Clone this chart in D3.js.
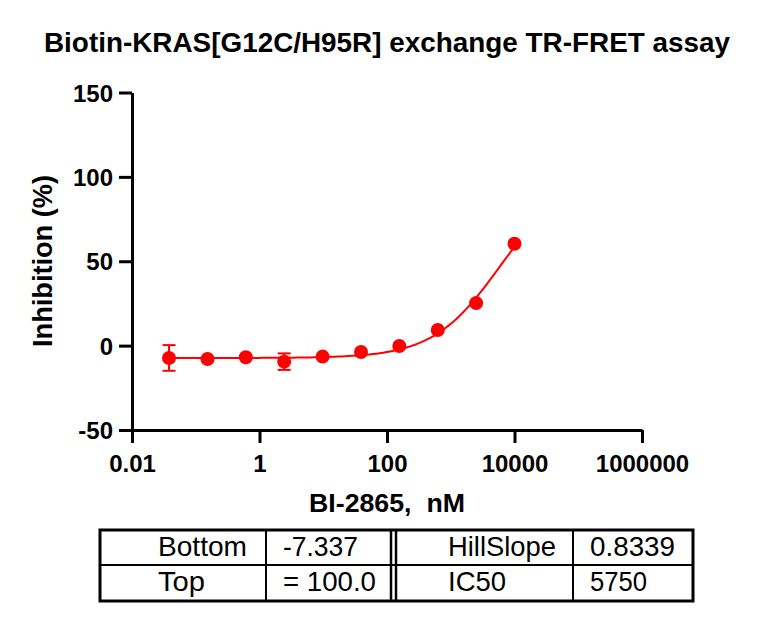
<!DOCTYPE html>
<html>
<head>
<meta charset="utf-8">
<script src="https://cdn.jsdelivr.net/npm/d3@7"></script>
<style>
  body { margin: 0; background: #fff; }
  svg { display: block; font-family: "Liberation Sans", Arial, sans-serif; }
  .axis path, .axis line { stroke: #000; stroke-width: 3; }
  .axis text { font-size: 24px; font-weight: bold; fill: #000; }
</style>
</head>
<body>
<svg id="chart" width="757" height="619"></svg>
<script>
// measured concentrations (nM), 4-fold dilution series
const conc  = [0.0381, 0.153, 0.610, 2.44, 9.77, 39.1, 156, 625, 2500, 10000];
const inhib = [-7.3, -7.9, -6.9, -9.5, -6.5, -3.8, -0.2, 9.3, 25.2, 60.4];
const errs  = [7.6, 0, 0, 4.9, 0, 0, 0, 0, 0, 0];

const xTicks = [0.01, 1, 100, 10000, 1000000];
const yTicks = [-50, 0, 50, 100, 150];

// fit results shown in the table
const paramNames = ["Bottom", "Top", "HillSlope", "IC50"];
const paramText  = ["-7.337", "= 100.0", "0.8339", "5750"];
const fitParams  = [-7.337, 100.0, 0.8339, 5750];

const svg = d3.select('#chart');
const red = '#ff0000';

var x = d3.scaleLog().domain([0.01, 1e6]).range([132, 642]);
var y = d3.scaleLinear().domain([-50, 150]).range([430, 92.5]);

/* AXES */
var xAxis = d3.axisBottom(x)
  .tickValues(xTicks)
  .tickFormat(d => String(d))
  .tickSize(13)
  .tickSizeOuter(0)
  .tickPadding(12);

svg.append('g').attr('class', 'axis')
  .attr('transform', 'translate(0,' + y(-50) + ')')
  .call(xAxis)
  .call(g => g.selectAll('text').attr('dy', '0.71em'));

var yAxis = d3.axisLeft(y)
  .tickValues(yTicks)
  .tickFormat(d => String(d))   // plain hyphen for negatives
  .tickSize(13)
  .tickSizeOuter(0)
  .tickPadding(6);

svg.append('g').attr('class', 'axis')
  .attr('transform', 'translate(' + x(0.01) + ',0)')
  .call(yAxis)
  .call(g => g.selectAll('text').attr('dy', '0.36em'));

/* TITLES */
svg.append('text')
  .attr('x', 387).attr('y', 52)
  .attr('text-anchor', 'middle')
  .attr('textLength', 686).attr('lengthAdjust', 'spacingAndGlyphs')
  .style('font-size', '28px').style('font-weight', 'bold')
  .text('Biotin-KRAS[G12C/H95R] exchange TR-FRET assay');

svg.append('text')
  .attr('x', 387).attr('y', 512)
  .attr('text-anchor', 'middle')
  .attr('textLength', 156).attr('lengthAdjust', 'spacingAndGlyphs')
  .style('font-size', '26px').style('font-weight', 'bold')
  .style('white-space', 'pre')
  .text('BI-2865,  nM');

svg.append('text')
  .attr('transform', 'translate(52,261) rotate(-90)')
  .attr('text-anchor', 'middle')
  .attr('textLength', 172).attr('lengthAdjust', 'spacingAndGlyphs')
  .style('font-size', '27px').style('font-weight', 'bold')
  .text('Inhibition (%)');

/* FIT CURVE (4PL from the fitted parameters) */
const [fitBottom, fitTop, fitHill, fitIC50] = fitParams;
var lo = Math.log10(conc[0]), hi = Math.log10(conc[conc.length - 1]);
var curveX = d3.range(0, 101).map(i => Math.pow(10, lo + i / 100 * (hi - lo)));

var line = d3.line()
  .x(c => x(c))
  .y(c => y(fitBottom + (fitTop - fitBottom) / (1 + Math.pow(fitIC50 / c, fitHill))));

svg.append('path')
  .datum(curveX)
  .attr('d', line)
  .attr('fill', 'none')
  .attr('stroke', red)
  .attr('stroke-width', 2);

/* ERROR BARS */
var pts = conc.map((c, i) => ({c: c, v: inhib[i], e: errs[i]}));
var eb = svg.append('g')
  .selectAll('g')
  .data(pts.filter(d => d.e > 0))
  .enter().append('g')
  .attr('stroke', red).attr('stroke-width', 2);

eb.append('line')
  .attr('x1', d => x(d.c)).attr('x2', d => x(d.c))
  .attr('y1', d => y(d.v + d.e)).attr('y2', d => y(d.v - d.e));
eb.append('line')
  .attr('x1', d => x(d.c) - 6.5).attr('x2', d => x(d.c) + 6.5)
  .attr('y1', d => y(d.v + d.e)).attr('y2', d => y(d.v + d.e));
eb.append('line')
  .attr('x1', d => x(d.c) - 6.5).attr('x2', d => x(d.c) + 6.5)
  .attr('y1', d => y(d.v - d.e)).attr('y2', d => y(d.v - d.e));

/* POINTS */
svg.append('g')
  .selectAll('circle')
  .data(pts)
  .enter().append('circle')
  .attr('cx', d => x(d.c))
  .attr('cy', d => y(d.v))
  .attr('r', 7)
  .attr('fill', red);

/* PARAMETER TABLE */
var table = svg.append('g');
var colX = [100, 266, 391, 396, 573, 693];
var rowY = [530, 565, 601];

table.append('rect')
  .attr('x', colX[0]).attr('y', rowY[0])
  .attr('width', colX[5] - colX[0]).attr('height', rowY[2] - rowY[0])
  .attr('fill', 'none').attr('stroke', '#000').attr('stroke-width', 3);

table.append('line')
  .attr('x1', colX[0]).attr('x2', colX[5])
  .attr('y1', rowY[1]).attr('y2', rowY[1])
  .attr('stroke', '#000').attr('stroke-width', 2);

table.selectAll('line.col')
  .data(colX.slice(1, 5))
  .enter().append('line').attr('class', 'col')
  .attr('x1', d => d).attr('x2', d => d)
  .attr('y1', rowY[0]).attr('y2', rowY[2])
  .attr('stroke', '#000').attr('stroke-width', (d, i) => i === 1 || i === 2 ? 2.5 : 2);

// x, baseline and text width for each name / value cell
var cells = [
  {t: paramNames[0], x: 158, y: 556, w: 89},
  {t: paramText[0],  x: 283, y: 556, w: 75},
  {t: paramNames[1], x: 158, y: 591, w: 47},
  {t: paramText[1],  x: 283, y: 591, w: 93},
  {t: paramNames[2], x: 448, y: 556, w: 108},
  {t: paramText[2],  x: 590, y: 556, w: 85},
  {t: paramNames[3], x: 448, y: 591, w: 58},
  {t: paramText[3],  x: 590, y: 591, w: 57}
];

table.selectAll('text')
  .data(cells)
  .enter().append('text')
  .attr('x', d => d.x).attr('y', d => d.y)
  .attr('textLength', d => d.w).attr('lengthAdjust', 'spacingAndGlyphs')
  .style('font-size', '28px')
  .style('white-space', 'pre')
  .text(d => d.t);
</script>
</body>
</html>
